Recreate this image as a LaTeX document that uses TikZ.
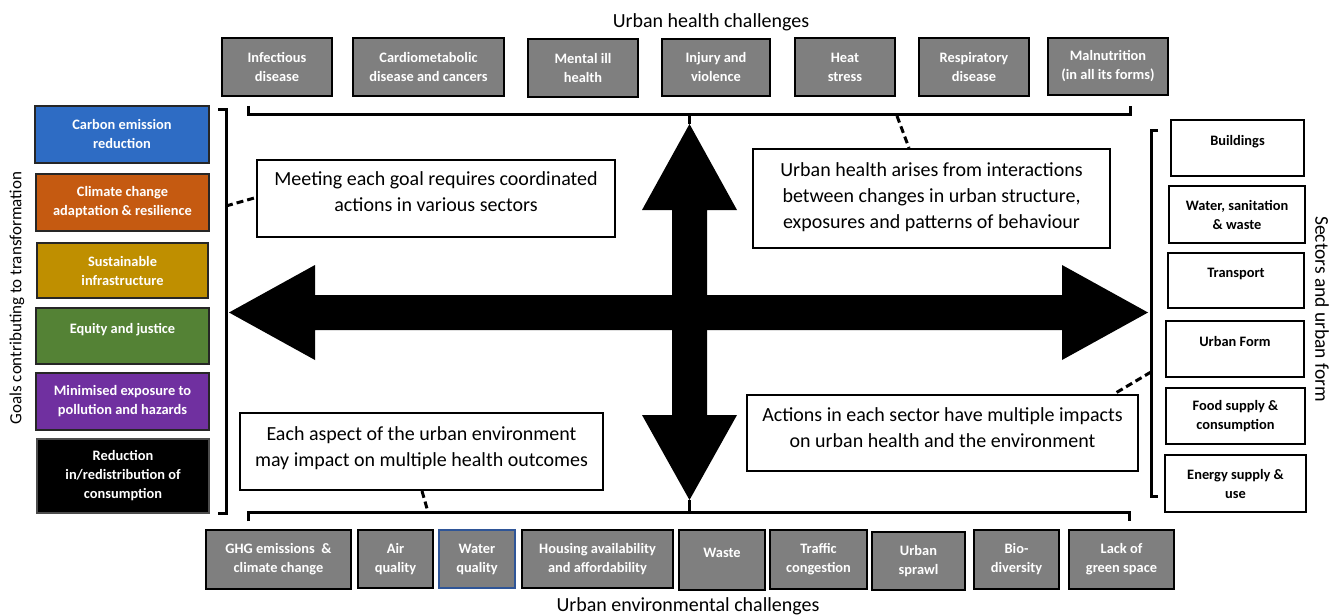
\documentclass[tikz,border=0pt]{standalone}
\usepackage{fontspec}
\setmainfont{Carlito}
\usetikzlibrary{calc}
\definecolor{boxgray}{RGB}{127,127,127}
\definecolor{gblue}{RGB}{46,108,196}
\definecolor{gorange}{RGB}{197,90,17}
\definecolor{ggold}{RGB}{191,143,0}
\definecolor{ggreen}{RGB}{84,130,53}
\definecolor{gpurple}{RGB}{112,48,160}
\definecolor{wblue}{RGB}{47,85,151}
\newcommand{\mkbox}[7]{\node[#2, minimum width={#5-#3}, minimum height={#6-#4}] (#1) at ({(#3+#5)/2},{(#4+#6)/2}) {#7};}
\newcommand{\upl}{\\[-4pt]\mbox{}}
\begin{document}
\begin{tikzpicture}[x=1pt,y=-1pt,
  lbl/.style={font=\fontsize{14.4}{19}\selectfont\bfseries, align=center, inner sep=2pt},
  gbox/.style={lbl, text=white, draw=black, line width=2.5pt, fill=boxgray},
  goal/.style={lbl, text=white, draw=black!85, line width=2pt},
  sect/.style={lbl, text=black, draw=black, line width=2.5pt, fill=white},
  note/.style={font=\fontsize{20}{26}\selectfont, align=center, draw=black, line width=2pt, fill=white, inner sep=2pt},
  ttl/.style={font=\fontsize{20}{24}\selectfont, inner sep=0pt},
  brk/.style={line width=3pt},
  dashline/.style={line width=3pt, dash pattern=on 7pt off 4pt}
]
\useasboundingbox (0,0) rectangle (1333,615);

% titles
\node[ttl] (ttop) at (711,22) {Urban health challenges};
\node[ttl] (tbot) at (688,606) {Urban environmental challenges};
\node[ttl, font=\fontsize{17}{20}\selectfont, rotate=90] (tleft) at (17,298) {Goals contributing to transformation};
\node[ttl, font=\fontsize{19.5}{22}\selectfont, rotate=-90] (tright) at (1322,309) {Sectors and urban form};

% top row: health challenges
\mkbox{inf}{gbox}{222}{38}{332}{96}{Infectious\\disease}
\mkbox{card}{gbox}{353}{38}{504}{96}{Cardiometabolic\\disease and cancers}
\mkbox{ment}{gbox}{528}{39}{638}{97}{Mental ill\\health}
\mkbox{inj}{gbox}{662}{39}{770}{96}{Injury and\\violence}
\mkbox{heat}{gbox}{795}{38}{895}{96}{Heat\\stress}
\mkbox{resp}{gbox}{919}{38}{1029}{96}{Respiratory\\disease}
\mkbox{maln}{gbox}{1048}{38}{1168}{95}{Malnutrition\\(in all its forms)}

% left column: goals
\mkbox{carb}{goal, fill=gblue}{35}{106}{209}{163}{Carbon emission\\reduction}
\mkbox{clim}{goal, fill=gorange}{36}{174}{209}{231}{Climate change\\adaptation \& resilience}
\mkbox{sust}{goal, fill=ggold}{37}{243}{208}{298}{Sustainable\\infrastructure}
\mkbox{equi}{goal, fill=ggreen}{36}{308}{209}{364}{Equity and justice\upl}
\mkbox{mini}{goal, fill=gpurple}{36}{373}{209}{430}{Minimised exposure to\\pollution and hazards}
\mkbox{redu}{goal, fill=black, draw=black!70}{37}{439}{209}{513}{Reduction\\in/redistribution of\\consumption}

% right column: sectors
\mkbox{bldg}{sect}{1171}{120}{1304}{176}{Buildings\upl}
\mkbox{wats}{sect}{1169}{186}{1305}{243}{Water, sanitation\\\& waste}
\mkbox{tran}{sect}{1168}{253}{1304}{308}{Transport\upl}
\mkbox{ufor}{sect}{1166}{321}{1304}{377}{Urban Form\upl}
\mkbox{food}{sect}{1166}{388}{1305}{444}{Food supply \&\\consumption}
\mkbox{ener}{sect}{1165}{455}{1306}{512}{Energy supply \&\\use}

% bottom row: environmental challenges
\mkbox{ghg}{gbox}{206}{530}{351}{589}{GHG emissions~~\&\\climate change}
\mkbox{air}{gbox}{358}{530}{433}{588}{Air\\quality}
\mkbox{wq}{gbox, draw=wblue, line width=1.5pt}{439}{530}{515}{588}{Water\\quality}
\mkbox{hous}{gbox}{522}{530}{673}{588}{Housing availability\\and affordability}
\mkbox{wast}{gbox}{679}{530}{765}{590}{Waste\upl}
\mkbox{traf}{gbox}{770}{530}{867}{589}{Traffic\\congestion}
\mkbox{spra}{gbox}{872}{532}{965}{590}{Urban\\sprawl}
\mkbox{bio}{gbox}{974}{530}{1059}{589}{Bio-\\diversity}
\mkbox{lack}{gbox}{1069}{530}{1174}{589}{Lack of\\green space}

% explanatory notes
\mkbox{meet}{note}{257}{160}{615}{237}{Meeting each goal requires coordinated\\actions in various sectors\\[-12pt]\mbox{}}
\mkbox{aris}{note}{753}{149}{1110}{248}{Urban health arises from interactions\\between changes in urban structure,\\exposures and patterns of behaviour\\[-20pt]\mbox{}}
\mkbox{acti}{note}{747}{395}{1138}{471}{Actions in each sector have multiple impacts\\on urban health and the environment\\[-16pt]\mbox{}}
\mkbox{each}{note}{240}{413}{603}{490}{Each aspect of the urban environment\\may impact on multiple health outcomes\\[-16pt]\mbox{}}

% brackets
\draw[brk] (248,106) -- (248,115) -- (1130,115) -- (1130,106);
\draw[brk] (218,110) -- (226,110) -- (226,513) -- (218,513);
\draw[brk] (1158,131) -- (1151,131) -- (1151,496) -- (1158,496);
\draw[brk] (248,521) -- (248,512) -- (1129,512) -- (1129,521);

% big arrows
\coordinate (hl) at (229,312.5);
\coordinate (hr) at (1148,312.5);
\coordinate (vt) at (689.5,124);
\coordinate (vb) at (689.5,500);
\draw[brk] (689.5,115) -- (vt);
\draw[brk] (689.5,512) -- (vb);
\fill[black] (hl) -- ++(86,-47.5) -- ++(0,30) -- ($(hr)+(-86,-17.5)$) -- ++(0,-30) -- (hr)
  -- ++(-86,47.5) -- ++(0,-30) -- ($(hl)+(86,17.5)$) -- ++(0,30) -- cycle;
\fill[black] (vt) -- ++(47.5,86) -- ++(-30,0) -- ($(vb)+(17.5,-85)$) -- ++(30,0) -- (vb)
  -- ++(-47.5,-85) -- ++(30,0) -- ($(vt)+(-17.5,86)$) -- ++(-30,0) -- cycle;

% dashed connectors
\coordinate (dtop) at (897,116);
\coordinate (dleft) at (226,206);
\coordinate (dright) at (1151,372);
\coordinate (dbot) at (428,512);
\draw[dashline] (dtop) -- ([xshift=157pt]aris.north west);
\draw[dashline] (dleft) -- ([yshift=1pt]meet.west);
\draw[dashline] (dright) -- ([xshift=-25pt]acti.north east);
\draw[dashline] ([xshift=183pt]each.south west) -- (dbot);
\end{tikzpicture}
\end{document}
